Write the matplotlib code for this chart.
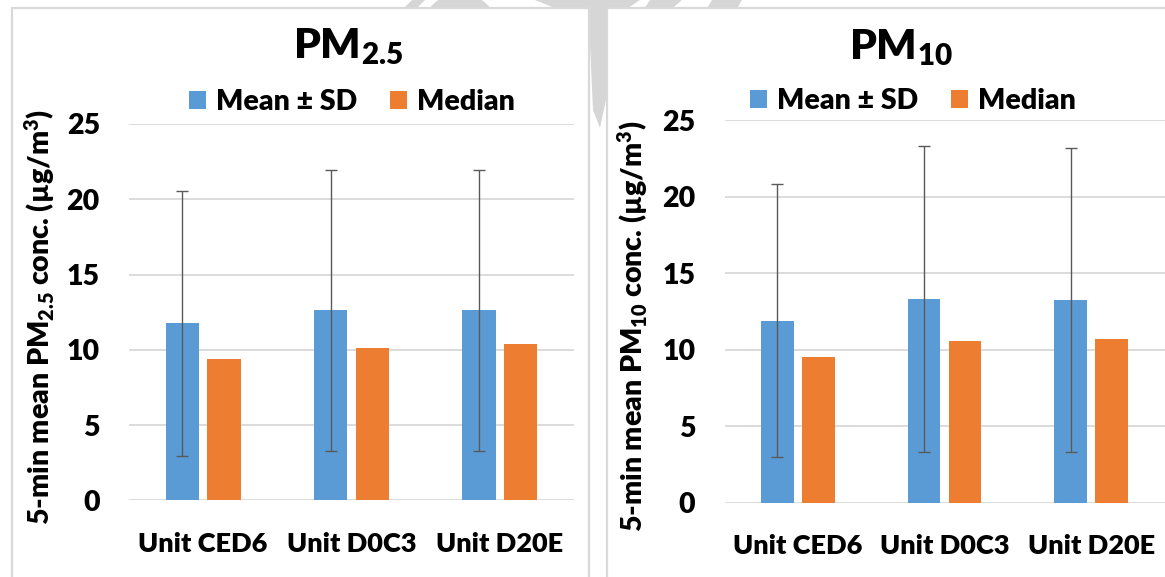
import matplotlib
matplotlib.use("Agg")
import matplotlib.pyplot as plt
import numpy as np
from matplotlib.patches import Rectangle, Polygon, Ellipse

plt.rcParams['font.family'] = ['Lato', 'DejaVu Sans']
plt.rcParams['font.weight'] = 'heavy'
plt.rcParams['mathtext.default'] = 'regular'

units = ['Unit CED6', 'Unit D0C3', 'Unit D20E']

# 5-min mean concentrations (µg/m3)
pm25_mean = [11.76, 12.62, 12.62]
pm25_sd = [8.80, 9.32, 9.33]
pm25_median = [9.37, 10.14, 10.41]

pm10_mean = [11.91, 13.31, 13.25]
pm10_sd = [8.92, 10.02, 9.93]
pm10_median = [9.55, 10.56, 10.73]

blue = '#5B9BD5'
orange = '#ED7D31'
grid_col = '#D9D9D9'

W, H = 1165, 577
fig = plt.figure(figsize=(W / 100, H / 100), dpi=100)


def fx(x):
    return x / W


def fy(y):
    return 1 - y / H


def fig_poly(pts, **kw):
    fig.patches.append(Polygon([(fx(a), fy(b)) for a, b in pts], closed=True,
                               transform=fig.transFigure, **kw))


# faint "draft" watermark behind the two chart panels
wm = dict(facecolor='#D6D6D6', edgecolor='none', zorder=-3)
fig_poly([(535, 0), (640, 0), (607, 22), (607, 95), (600, 128), (593, 110),
          (589, 22)], **wm)
fig_poly([(400, 12), (412, 0), (425, 0), (413, 12)], **wm)
fig_poly([(642, 12), (650, 0), (682, 0), (668, 12)], **wm)
fig_poly([(705, 12), (712, 0), (742, 0), (735, 12)], **wm)
fig.patches.append(Ellipse((fx(460), fy(32)), 62 / W, 62 / H, transform=fig.transFigure,
                           facecolor='none', edgecolor='#D6D6D6', lw=11, zorder=-3))

# panel frames
for x0, x1 in [(12, 589), (607, 1180)]:
    fig.patches.append(Rectangle((fx(x0), fy(600)), (x1 - x0) / W, 592 / H,
                                 transform=fig.transFigure, facecolor='white',
                                 edgecolor=grid_col, lw=1.6, zorder=-2))


def panel(x0, x1, ytop, ybot, mean, sd, median, title, title_x, title_y,
          leg_x, leg_y, ylabel, ylab_x, ylab_y):
    ax = fig.add_axes([fx(x0), fy(ybot), (x1 - x0) / W, (ybot - ytop) / H])
    ax.patch.set_visible(False)
    x = np.arange(len(units))
    ax.bar(x - 0.14, mean, 0.224, yerr=sd, color=blue, label='Mean ± SD',
           error_kw=dict(ecolor='#595959', elinewidth=1.0, capsize=4.2, capthick=1.0))
    ax.bar(x + 0.14, median, 0.224, color=orange, label='Median')
    ax.set_xlim(-0.5, 2.5)
    ax.set_ylim(0, 25)
    ax.set_yticks(range(0, 26, 5))
    ax.set_xticks(x)
    ax.set_xticklabels(units)
    ax.yaxis.grid(True, color=grid_col, lw=1.3)
    ax.set_axisbelow(True)
    for s in ax.spines.values():
        s.set_visible(False)
    ax.tick_params(axis='y', length=0, labelsize=20.5, pad=21)
    ax.tick_params(axis='x', length=0, labelsize=19.5, pad=22.5)
    ax.legend(loc='center', bbox_to_anchor=(fx(leg_x), fy(leg_y)),
              bbox_transform=fig.transFigure, ncol=2, frameon=False, fontsize=20.5,
              handlelength=0.6, handleheight=0.6, handletextpad=0.35,
              columnspacing=1.15, borderpad=0)
    fig.text(fx(title_x), fy(title_y), title, ha='center', va='baseline',
             fontsize=30.5)
    fig.text(fx(ylab_x), fy(ylab_y), ylabel, ha='center', va='center',
             rotation=90, fontsize=20.5)
    return ax


panel(129, 574, 124, 500.3, pm25_mean, pm25_sd, pm25_median,
      'PM$_{2.5}$', 348, 58.5, 352, 102,
      '5-min mean PM$_{2.5}$ conc. (µg/m$^3$)', 40, 316.5)
panel(724.5, 1164.5, 120.3, 502.7, pm10_mean, pm10_sd, pm10_median,
      'PM$_{10}$', 901, 59, 912.5, 101,
      '5-min mean PM$_{10}$ conc. (µg/m$^3$)', 633, 326)

fig.savefig('out.png', dpi=100)
